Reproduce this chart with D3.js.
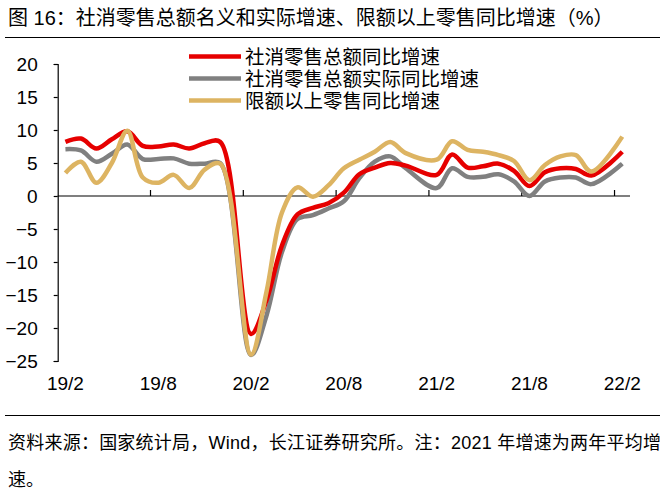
<!DOCTYPE html>
<html>
<head>
<meta charset="utf-8">
<script src="https://cdn.jsdelivr.net/npm/d3@7"></script>
<style>
  body { margin: 0; background: #fff; }
  text { font-family: "Liberation Sans", Arial, "Noto Sans CJK SC", sans-serif; fill: #000; }
</style>
</head>
<body>
<div id="chart"></div>
<script>
// months 19/2 .. 22/2 (January is combined with February, so no value)
const months = [
  "19/2","19/3","19/4","19/5","19/6","19/7","19/8","19/9","19/10","19/11","19/12",
  "20/1","20/2","20/3","20/4","20/5","20/6","20/7","20/8","20/9","20/10","20/11","20/12",
  "21/1","21/2","21/3","21/4","21/5","21/6","21/7","21/8","21/9","21/10","21/11","21/12",
  "22/1","22/2"
];
const xTickLabels = ["19/2", "19/8", "20/2", "20/8", "21/2", "21/8", "22/2"];
const yTicks = [20, 15, 10, 5, 0, -5, -10, -15, -20, -25];

// 社消零售总额同比增速
const nominal = [
  8.2, 8.7, 7.2, 8.6, 9.8, 7.6, 7.5, 7.8, 7.2, 8.0, 8.2,
  null, -20.9, -15.8, -7.5, -2.8, -1.8, -1.1, 0.5, 3.3, 4.3, 5.0, 4.6,
  null, 3.2, 6.3, 4.3, 4.5, 4.9, 3.8, 1.5, 3.6, 4.2, 4.1, 3.1,
  null, 6.7
];
// 社消零售总额实际同比增速
const real = [
  7.1, 6.9, 5.2, 6.4, 7.8, 5.6, 5.6, 5.7, 4.9, 4.9, 5.0,
  null, -24.1, -18.1, -8.5, -3.5, -2.9, -1.9, -0.8, 2.7, 5.2, 6.0, 4.2,
  null, 1.2, 4.2, 2.9, 2.9, 3.3, 2.2, 0.0, 2.2, 2.8, 2.8, 1.8,
  null, 4.9
];
// 限额以上零售同比增速
const aboveQuota = [
  3.5, 5.2, 2.0, 5.0, 9.9, 2.8, 2.0, 3.2, 1.2, 4.0, 4.9,
  null, -24.0, -14.5, -2.5, 1.3, -0.1, 1.6, 4.2, 5.5, 6.7, 8.2, 6.5,
  null, 5.5, 8.3, 7.0, 6.7, 6.2, 5.3, 2.4, 4.7, 6.0, 6.2, 3.7,
  null, 9.0
];

const series = [
  { name: "社消零售总额实际同比增速", values: real, color: "#808080" },
  { name: "社消零售总额同比增速", values: nominal, color: "#e60000" },
  { name: "限额以上零售同比增速", values: aboveQuota, color: "#ddb462" }
];
const legendOrder = [1, 0, 2];

const W = 666, H = 496;
const svg = d3.select("#chart").append("svg")
  .attr("width", W)
  .attr("height", H);

// title + rules
svg.append("text")
  .attr("x", 8)
  .attr("y", 25)
  .style("font-size", "20px")
  .text("图 16：社消零售总额名义和实际增速、限额以上零售同比增速（%）");

svg.append("line")
  .attr("x1", 5).attr("x2", 660)
  .attr("y1", 37.5).attr("y2", 37.5)
  .attr("stroke", "#000").attr("stroke-width", 1.2);

svg.append("line")
  .attr("x1", 5).attr("x2", 660)
  .attr("y1", 415.5).attr("y2", 415.5)
  .attr("stroke", "#000").attr("stroke-width", 1.2);

// scales
const x = d3.scaleBand()
  .domain(months)
  .range([57.7, 630])
  .padding(0);

const y = d3.scaleLinear()
  .domain([-25, 20])
  .range([361, 64]);

const cx = m => x(m) + x.bandwidth() / 2;

// y axis
const yAxis = svg.append("g")
  .attr("transform", "translate(57.7,0)")
  .call(d3.axisLeft(y).tickValues(yTicks).tickSize(4).tickPadding(16).tickFormat(d3.format("d")));
yAxis.select(".domain").attr("stroke", "#000").attr("stroke-width", 1.2);
yAxis.selectAll(".tick line").attr("stroke", "#000").attr("stroke-width", 1.2);
yAxis.selectAll(".tick text")
  .style("font-size", "19px")
  .style("font-family", "'Liberation Sans', Arial, sans-serif")
  .attr("fill", "#000");

// x axis along zero, ticks between groups of six months
const xAxis = svg.append("g");
xAxis.append("line")
  .attr("x1", 57.7).attr("x2", 630)
  .attr("y1", y(0)).attr("y2", y(0))
  .attr("stroke", "#000").attr("stroke-width", 1.2);

xTickLabels.forEach((lab, k) => {
  const bx = x(lab);
  if (k > 0) {
    xAxis.append("line")
      .attr("x1", bx).attr("x2", bx)
      .attr("y1", y(0)).attr("y2", y(0) - 6)
      .attr("stroke", "#000").attr("stroke-width", 1.2);
  }
  svg.append("text")
    .attr("x", cx(lab))
    .attr("y", 390)
    .attr("text-anchor", "middle")
    .style("font-size", "19px")
    .text(lab);
});

// lines (smoothed, gaps for January are bridged)
const line = d3.line()
  .x(d => cx(d.m))
  .y(d => y(d.v))
  .curve(d3.curveCatmullRom.alpha(0.5));

series.forEach(s => {
  const pts = months
    .map((m, i) => ({ m: m, v: s.values[i] }))
    .filter(d => d.v !== null);
  svg.append("path")
    .datum(pts)
    .attr("fill", "none")
    .attr("stroke", s.color)
    .attr("stroke-width", 4.5)
    .attr("stroke-linejoin", "round")
    .attr("d", line);
});

// legend
const legend = svg.append("g");
legendOrder.forEach((si, k) => {
  const s = series[si];
  const ly = 56.5 + k * 22;
  legend.append("line")
    .attr("x1", 189).attr("x2", 241)
    .attr("y1", ly).attr("y2", ly)
    .attr("stroke", s.color)
    .attr("stroke-width", 4.5);
  legend.append("text")
    .attr("x", 245)
    .attr("y", ly)
    .attr("dy", "0.36em")
    .style("font-size", "19.5px")
    .text(s.name);
});

// source note
svg.append("text")
  .attr("x", 8)
  .attr("y", 449)
  .attr("textLength", 653)
  .attr("lengthAdjust", "spacing")
  .style("font-size", "18px")
  .text("资料来源：国家统计局，Wind，长江证券研究所。注：2021 年增速为两年平均增");

svg.append("text")
  .attr("x", 8)
  .attr("y", 486)
  .style("font-size", "18px")
  .text("速。");
</script>
</body>
</html>
